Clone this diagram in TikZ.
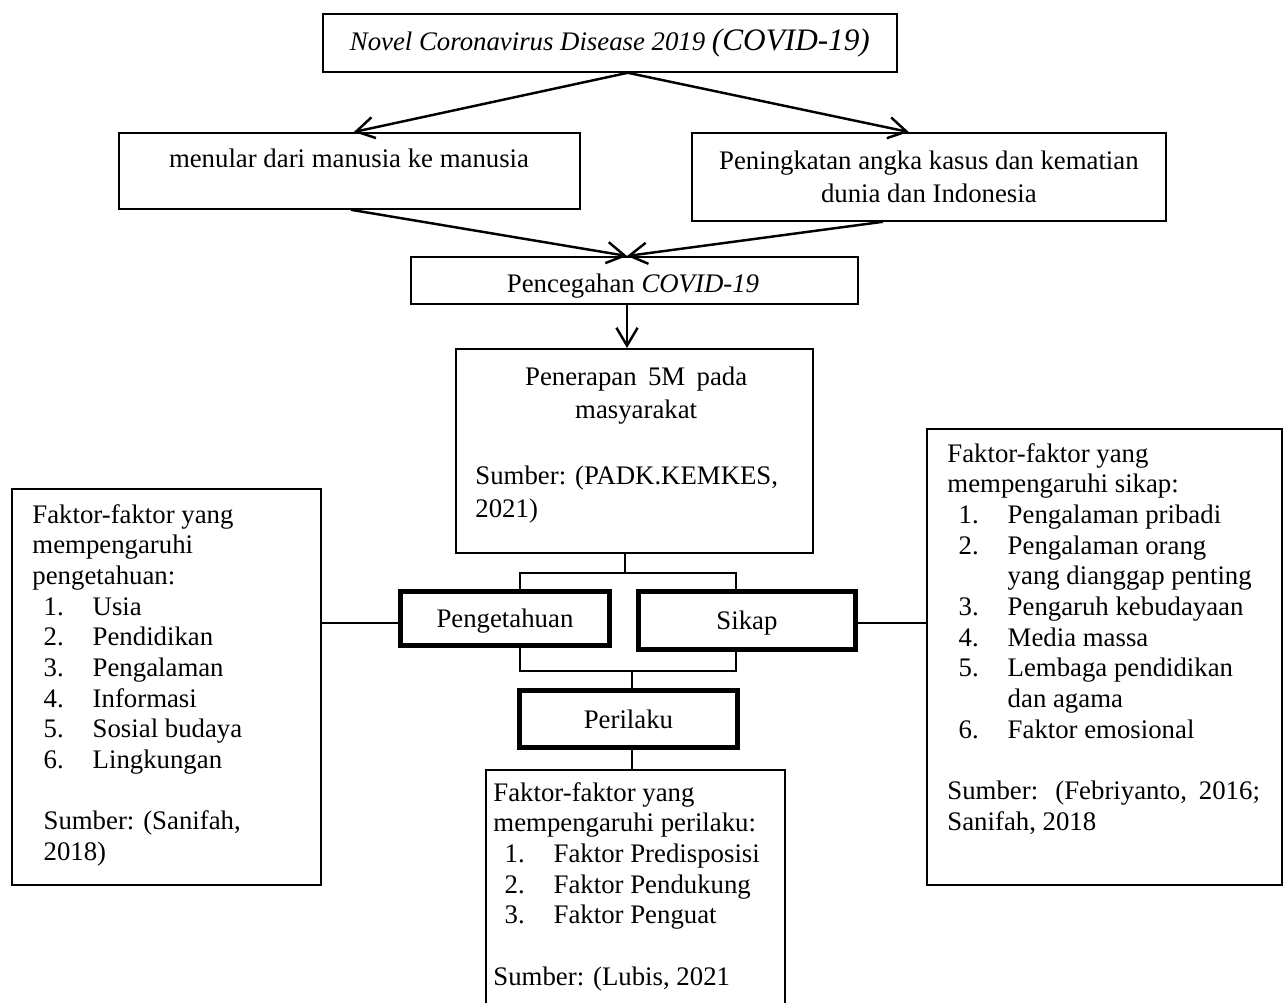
\documentclass[tikz,border=0pt]{standalone}
\usepackage{fontspec}
\setmainfont{Liberation Serif}
\usetikzlibrary{arrows.meta}

\newcommand{\pxl}{0.448pt}
\newcommand{\itm}[2]{\hspace*{5pt}\makebox[22pt][l]{#1}#2}
\newcommand{\itmc}[1]{\hspace*{27pt}#1}

\tikzset{
  box/.style 2 args={draw, line width=0.8pt, minimum width=#1*\pxl, minimum height=#2*\pxl, inner sep=0pt, anchor=north west},
  boldbox/.style 2 args={box={#1}{#2}, line width=2.2pt, text depth=0pt},
  txt/.style={inner sep=0pt, font=\fontsize{12}{14.8}\selectfont},
  arr/.style={line width=1.1pt, -{Straight Barb[length=8pt,width=9.5pt]}},
  link/.style={line width=0.7pt},
}

\begin{document}
\begin{tikzpicture}[x=0.448pt, y=-0.448pt]
\useasboundingbox (0,0) rectangle (1287,1002);
\clip (0,0) rectangle (1287,1002);

% top part
\node[box={574}{58}, txt] (covid) at (322,13) {\textit{Novel Coronavirus Disease 2019} {\fontsize{14}{16}\selectfont\textit{(COVID-19)}}};

\node[box={461}{76}] (tular) at (118,132) {};
\node[txt, anchor=base] (tularT) at (349,167) {menular dari manusia ke manusia};
\node[box={474}{88}, txt, align=center] (kasus) at (691,132) {Peningkatan angka kasus dan kematian\\dunia dan Indonesia};

\node[box={447}{47}] (cegah) at (410,256) {};
\node[txt, anchor=base] (cegahT) at (633,292) {Pencegahan \textit{COVID-19}};

\node[box={357}{204}] (terap) at (455,348) {};
\node[txt, anchor=base west] (terapT) at (475,385) {\parbox[t]{144pt}{%
\makebox[144pt][c]{\makebox[99.5pt][s]{Penerapan 5M pada}}\\
\makebox[144pt][c]{masyarakat}\\[14.8pt]
Sumber: (PADK.KEMKES,\\
2021)}};

% middle boxes
\node[boldbox={209}{54}, txt] (tahu) at (398,589) {Pengetahuan};
\node[boldbox={217}{58}, txt] (sikap) at (636,589) {Sikap};
\node[boldbox={218}{57}, txt] (perilaku) at (517,688) {Perilaku};

% factor boxes
\node[box={309}{396}] (ftahu) at (11,488) {};
\node[txt, anchor=base west] (ftahuT) at (32,523) {\parbox[t]{125pt}{\fontsize{12}{13.75}\selectfont
Faktor-faktor yang\\
mempengaruhi\\
pengetahuan:\\
\itm{1.}{Usia}\\
\itm{2.}{Pendidikan}\\
\itm{3.}{Pengalaman}\\
\itm{4.}{Informasi}\\
\itm{5.}{Sosial budaya}\\
\itm{6.}{Lingkungan}\\[13.75pt]
\hspace*{5pt}Sumber: (Sanifah,\\
\hspace*{5pt}2018)}};

\node[box={355}{456}] (fsikap) at (926,428) {};
\node[txt, anchor=base west] (fsikapT) at (947,462) {\parbox[t]{140pt}{\fontsize{12}{13.75}\selectfont
Faktor-faktor yang\\
mempengaruhi sikap:\\
\itm{1.}{Pengalaman pribadi}\\
\itm{2.}{Pengalaman orang}\\
\itmc{yang dianggap penting}\\
\itm{3.}{Pengaruh kebudayaan}\\
\itm{4.}{Media massa}\\
\itm{5.}{Lembaga pendidikan}\\
\itmc{dan agama}\\
\itm{6.}{Faktor emosional}\\[13.75pt]
\makebox[140pt][s]{Sumber: (Febriyanto, 2016;}\\
Sanifah, 2018}};

\node[box={299}{260}] (fperilaku) at (485,769) {};
\node[txt, anchor=base west] (fperilakuT) at (493,801) {\parbox[t]{130pt}{\fontsize{12}{13.75}\selectfont
Faktor-faktor yang\\
mempengaruhi perilaku:\\
\itm{1.}{Faktor Predisposisi}\\
\itm{2.}{Faktor Pendukung}\\
\itm{3.}{Faktor Penguat}\\[13.75pt]
Sumber: (Lubis, 2021}};

% arrows
\coordinate (axis) at (627,0);
\draw[arr] ([xshift=8pt]covid.south) -- ([xshift=2pt]tular.north);
\draw[arr] ([xshift=8pt]covid.south) -- ([xshift=-9pt]kasus.north);
\draw[arr] ([xshift=0.7pt]tular.south) -- (cegah.north -| axis);
\draw[arr] ([xshift=-20.6pt]kasus.south) -- (cegah.north -| axis);
\draw[arr] (cegah.south -| axis) -- (terap.north -| axis);

% connectors
\coordinate (mid) at (625,573);
\coordinate (tl) at (520,573);
\coordinate (tr) at (736,573);
\coordinate (bl) at (520,671);
\coordinate (br) at (736,671);
\coordinate (mid2) at (632,671);
\coordinate (side) at (0,623);
\draw[link] (terap.south -| mid) -- (mid);
\draw[link] (tahu.north -| tl) -- (tl) -- (tr) -- (sikap.north -| tr);
\draw[link] (tahu.south -| bl) -- (bl) -- (br) -- (sikap.south -| br);
\draw[link] (mid2) -- (perilaku.north -| mid2);
\draw[link] (perilaku.south -| mid2) -- (fperilaku.north -| mid2);
\draw[link] (ftahu.east |- side) -- (tahu.west |- side);
\draw[link] (sikap.east |- side) -- (fsikap.west |- side);
\end{tikzpicture}
\end{document}
